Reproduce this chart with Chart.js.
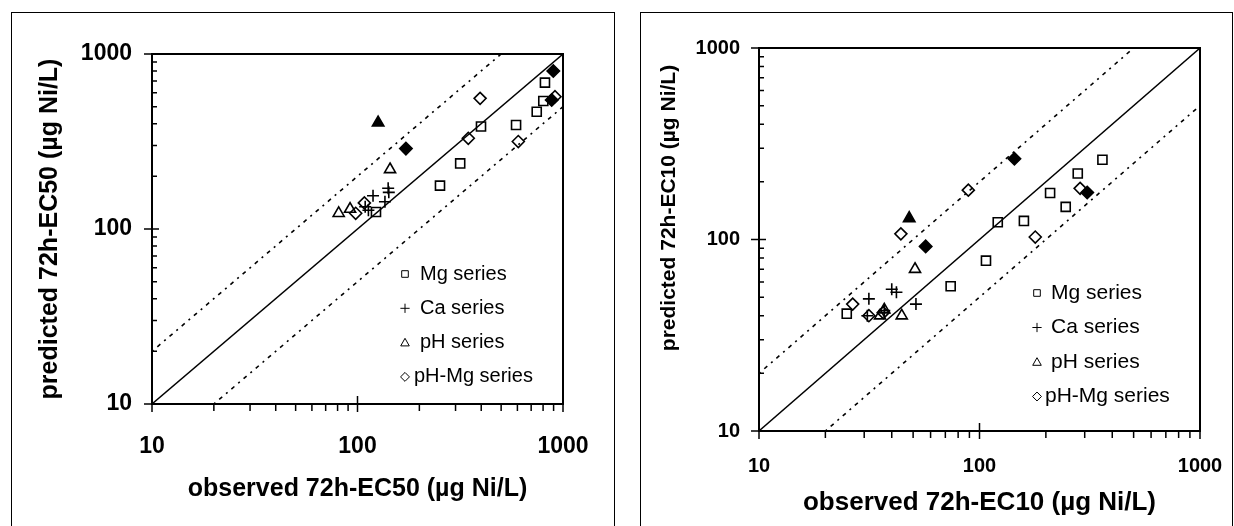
<!DOCTYPE html>
<html>
<head>
<meta charset="utf-8">
<script src="https://cdn.jsdelivr.net/npm/chart.js@4.4.1/dist/chart.umd.min.js"></script>
<style>
body { margin:0; background:#fff; width:1234px; height:526px; overflow:hidden; position:relative; }
.panel { position:absolute; border:1.5px solid #000; box-sizing:border-box; }
#panelLeft { left:11px; top:12px; width:604px; height:530px; }
#panelRight { left:640px; top:12px; width:593px; height:530px; }
canvas { position:absolute; }
</style>
</head>
<body>
<div class="panel" id="panelLeft"></div>
<div class="panel" id="panelRight"></div>
<canvas id="chartEC50" style="left:12px;top:13px" width="600" height="513"></canvas>
<canvas id="chartEC10" style="left:642px;top:13px" width="590" height="513"></canvas>
<script>
// значения (мкг Ni/л)
// --- EC50, левый график ---
var mgObs50 = [123, 252, 316, 399, 591, 745, 802, 817];
var mgPred50 = [125, 177, 237, 385, 393, 468, 539, 686];
var caObs50 = [109, 113, 119, 136, 141, 142];
var caPred50 = [134, 128, 155, 143, 171, 162];
var phObs50 = [81, 92, 144];
var phPred50 = [123, 130, 219];
var phFilledObs50 = [126];
var phFilledPred50 = [405];
var phMgObs50 = [98, 108, 346, 395, 606, 914];
var phMgPred50 = [123, 141, 330, 558, 316, 570];
var phMgFilledObs50 = [172, 881, 897];
var phMgFilledPred50 = [288, 546, 800];

// --- EC10, правый график ---
var mgObs10 = [25, 74, 107, 121, 159, 209, 246, 279, 361];
var mgPred10 = [41, 57, 77.5, 123, 125, 175, 148, 221, 261];
var caObs10 = [31, 31.5, 37, 40, 42, 51.5];
var caPred10 = [40, 49, 42.5, 55, 53, 46];
var phObs10 = [35.4, 37, 44.4, 51];
var phPred10 = [40, 43, 40, 70];
var phFilledObs10 = [48];
var phFilledPred10 = [129];
var phMgObs10 = [26.6, 31.5, 36.6, 44, 89, 179, 286];
var phMgPred10 = [46, 40, 41.5, 107, 181, 103, 185];
var phMgFilledObs10 = [57, 144, 308];
var phMgFilledPred10 = [92, 264, 176];

// линии 1:1 и коэффициент 2
var lineOneX = [10, 1000];
var lineOneY = [10, 1000];
var lineUpX = [10, 500];
var lineUpY = [20, 1000];
var lineDownX = [20, 1000];
var lineDownY = [10, 500];

var tickValues = [10, 100, 1000];
var minorValues = [20, 30, 40, 50, 60, 70, 80, 90, 200, 300, 400, 500, 600, 700, 800, 900];
var seriesNames = ['Mg series', 'Ca series', 'pH series', 'pH-Mg series'];

function toPoints(xs, ys) {
    var pts = [];
    for (var i = 0; i < xs.length; i++) {
        pts.push({ x: xs[i], y: ys[i] });
    }
    return pts;
}

/**
 * рисует маленький значок легенды*/
function drawSymbol(ctx, style, x, y, s) {
    ctx.beginPath();
    if (style === 'rect') {
        ctx.rect(x - s, y - s, 2 * s, 2 * s);
    } else if (style === 'cross') {
        ctx.moveTo(x - s * 1.4, y); ctx.lineTo(x + s * 1.4, y);
        ctx.moveTo(x, y - s * 1.4); ctx.lineTo(x, y + s * 1.4);
    } else if (style === 'triangle') {
        ctx.moveTo(x, y - s * 1.3); ctx.lineTo(x + s * 1.3, y + s); ctx.lineTo(x - s * 1.3, y + s); ctx.closePath();
    } else {
        ctx.moveTo(x, y - s * 1.35); ctx.lineTo(x + s * 1.35, y); ctx.lineTo(x, y + s * 1.35); ctx.lineTo(x - s * 1.35, y); ctx.closePath();
    }
    ctx.stroke();
}

// рамка, засечки осей и легенда внутри области графика
var framePlugin = {
    id: 'frame',
    afterDraw: function (chart, args, opts) {
        var ctx = chart.ctx;
        var a = chart.chartArea;
        var xs = chart.scales.x;
        var ys = chart.scales.y;
        ctx.save();
        ctx.strokeStyle = '#000';
        ctx.lineWidth = 2;
        ctx.strokeRect(a.left, a.top, a.right - a.left, a.bottom - a.top);
        ctx.lineWidth = 1.5;
        ctx.beginPath();
        minorValues.forEach(function (v) {
            var px = xs.getPixelForValue(v);
            ctx.moveTo(px, a.bottom); ctx.lineTo(px, a.bottom + 7);
            var py = ys.getPixelForValue(v);
            ctx.moveTo(a.left, py); ctx.lineTo(a.left + 5, py);
        });
        tickValues.forEach(function (v) {
            var px = xs.getPixelForValue(v);
            ctx.moveTo(px, a.bottom - 8); ctx.lineTo(px, a.bottom + 8);
            var py = ys.getPixelForValue(v);
            ctx.moveTo(a.left - 8, py); ctx.lineTo(a.left + 7, py);
        });
        ctx.stroke();

        // легенда
        var lg = opts.legend;
        ctx.lineWidth = 1;
        ctx.fillStyle = '#000';
        ctx.font = lg.size + 'px Arial, "Liberation Sans", sans-serif';
        ctx.textBaseline = 'middle';
        ctx.textAlign = 'left';
        var row = 0;
        chart.data.datasets.forEach(function (ds) {
            if (!ds.inLegend) return;
            var y = lg.y + row * lg.step;
            drawSymbol(ctx, ds.pointStyle, lg.x, y, 3.3);
            ctx.fillText(ds.label, lg.x + lg.gap[row], y);
            row++;
        });

        // подпись оси Y, если она задана вручную
        if (opts.yTitle) {
            ctx.save();
            ctx.translate(opts.yTitle.x, opts.yTitle.y);
            ctx.rotate(-Math.PI / 2);
            ctx.textAlign = 'center';
            ctx.font = 'bold ' + opts.yTitle.size + 'px Arial, "Liberation Sans", sans-serif';
            ctx.fillText(opts.yTitle.text, 0, 0);
            ctx.restore();
        }
        ctx.restore();
    }
};

function scatterSet(label, xs, ys, style, radius, filled, inLegend) {
    return {
        label: label,
        data: toPoints(xs, ys),
        pointStyle: style,
        pointRadius: radius,
        pointBorderWidth: 1.6,
        borderColor: '#000',
        backgroundColor: filled ? '#000' : 'rgba(0,0,0,0)',
        inLegend: inLegend,
        order: 0
    };
}

function lineSet(xs, ys, dash) {
    return {
        label: '',
        data: toPoints(xs, ys),
        showLine: true,
        pointRadius: 0,
        borderColor: '#000',
        borderWidth: dash ? 1.6 : 1.4,
        borderDash: dash || [],
        inLegend: false,
        order: 10
    };
}

/**
 * строит один график наблюдаемое/предсказанное*/
function createChart(canvasId, sets, lay) {
    var font = 'Arial, "Liberation Sans", sans-serif';
    var data = {
        datasets: [
            scatterSet(seriesNames[0], sets.mgObs, sets.mgPred, 'rect', 6.4, false, true),
            scatterSet(seriesNames[1], sets.caObs, sets.caPred, 'cross', 6, false, true),
            scatterSet(seriesNames[2], sets.phObs, sets.phPred, 'triangle', 6.4, false, true),
            scatterSet(seriesNames[3], sets.phMgObs, sets.phMgPred, 'rectRot', 6, false, true),
            scatterSet(seriesNames[2], sets.phFObs, sets.phFPred, 'triangle', 6.6, true, false),
            scatterSet(seriesNames[3], sets.phMgFObs, sets.phMgFPred, 'rectRot', 6.2, true, false),
            lineSet(lineOneX, lineOneY, null),
            lineSet(lineUpX, lineUpY, [2, 5, 4, 5]),
            lineSet(lineDownX, lineDownY, [2, 5, 4, 5])
        ]
    };
    var fixTicks = function (scale) {
        scale.ticks = tickValues.map(function (v) { return { value: v }; });
    };
    var config = {
        type: 'scatter',
        data: data,
        options: {
            responsive: false,
            animation: false,
            events: [],
            layout: { padding: { top: lay.top, right: lay.right, left: 0, bottom: 0 } },
            plugins: {
                legend: { display: false },
                tooltip: { enabled: false },
                frame: { legend: lay.legend, yTitle: lay.yTitleManual }
            },
            scales: {
                x: {
                    type: 'logarithmic',
                    min: 10,
                    max: 1000,
                    afterBuildTicks: fixTicks,
                    afterFit: function (scale) {
                        scale.height = lay.xHeight;
                        scale.paddingLeft = 0;
                        scale.paddingRight = 0;
                    },
                    grid: { display: false, drawTicks: false },
                    border: { display: false },
                    ticks: {
                        autoSkip: false, maxRotation: 0, padding: lay.xTickPad, color: '#000',
                        font: { family: font, size: lay.tickSize, weight: 'bold' },
                        callback: function (v) { return String(v); }
                    },
                    title: {
                        display: true, text: lay.xTitle, color: '#000',
                        font: { family: font, size: lay.xTitleSize, weight: 'bold' },
                        padding: { top: 0, bottom: lay.xTitlePad }
                    }
                },
                y: {
                    type: 'logarithmic',
                    min: 10,
                    max: 1000,
                    afterBuildTicks: fixTicks,
                    afterFit: function (scale) {
                        scale.width = lay.yWidth;
                        scale.paddingTop = 0;
                        scale.paddingBottom = 0;
                    },
                    grid: { display: false, drawTicks: false },
                    border: { display: false },
                    ticks: {
                        autoSkip: false, padding: lay.yTickPad, color: '#000',
                        font: { family: font, size: lay.tickSize, weight: 'bold' },
                        callback: function (v) { return String(v); }
                    },
                    title: {
                        display: !lay.yTitleManual, text: lay.yTitle, color: '#000',
                        font: { family: font, size: lay.yTitleSize, weight: 'bold' },
                        padding: { top: lay.yTitlePad, bottom: 0 }
                    }
                }
            }
        },
        plugins: [framePlugin]
    };
    return new Chart(document.getElementById(canvasId), config);
}

createChart('chartEC50', {
    mgObs: mgObs50, mgPred: mgPred50, caObs: caObs50, caPred: caPred50,
    phObs: phObs50, phPred: phPred50, phMgObs: phMgObs50, phMgPred: phMgPred50,
    phFObs: phFilledObs50, phFPred: phFilledPred50, phMgFObs: phMgFilledObs50, phMgFPred: phMgFilledPred50
}, {
    top: 41, right: 49, yWidth: 140, xHeight: 122,
    tickSize: 23, xTickPad: 29, yTickPad: 20,
    xTitle: 'observed 72h-EC50 (µg Ni/L)', xTitleSize: 25, xTitlePad: 22,
    yTitle: 'predicted 72h-EC50 (µg Ni/L)', yTitleSize: 25, yTitlePad: 23,
    legend: { x: 393, y: 261, step: 34.3, size: 20, gap: [15, 15, 15, 9] }
});

createChart('chartEC10', {
    mgObs: mgObs10, mgPred: mgPred10, caObs: caObs10, caPred: caPred10,
    phObs: phObs10, phPred: phPred10, phMgObs: phMgObs10, phMgPred: phMgPred10,
    phFObs: phFilledObs10, phFPred: phFilledPred10, phMgFObs: phMgFilledObs10, phMgFPred: phMgFilledPred10
}, {
    top: 35, right: 32, yWidth: 117, xHeight: 95,
    tickSize: 20, xTickPad: 23, yTickPad: 19,
    xTitle: 'observed 72h-EC10 (µg Ni/L)', xTitleSize: 26, xTitlePad: 8,
    yTitle: 'predicted 72h-EC10 (µg Ni/L)', yTitleSize: 21, yTitlePad: 13,
    yTitleManual: { text: 'predicted 72h-EC10 (µg Ni/L)', x: 27, y: 195, size: 21 },
    legend: { x: 395, y: 280, step: 34.5, size: 21, gap: [14, 14, 14, 8] }
});
</script>
</body>
</html>
